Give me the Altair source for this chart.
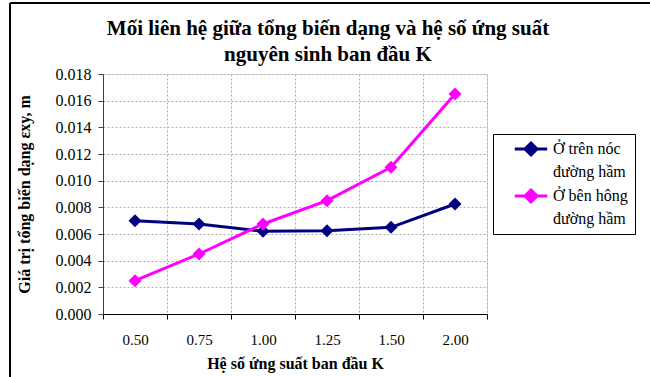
import altair as alt
import pandas as pd

k_labels = ["0.50", "0.75", "1.00", "1.25", "1.50", "2.00"]
series_names = ["Ở trên nóc|đường hầm", "Ở bên hông|đường hầm"]
series_colors = ["#000080", "#FF00FF"]
roof_values = [0.0070, 0.00675, 0.0062, 0.00625, 0.0065, 0.00825]
side_values = [0.0025, 0.0045, 0.00675, 0.0085, 0.0110, 0.0165]
y_ticks = [0.000, 0.002, 0.004, 0.006, 0.008, 0.010, 0.012, 0.014, 0.016, 0.018]

rows = []
for k, v in zip(k_labels, roof_values):
    rows.append({"K": k, "value": v, "series": series_names[0]})
for k, v in zip(k_labels, side_values):
    rows.append({"K": k, "value": v, "series": series_names[1]})
df = pd.DataFrame(rows)

FONT = "Liberation Serif"

x_enc = alt.X(
    "K:O",
    sort=k_labels,
    bandPosition=0.5,
    scale=alt.Scale(type="band", paddingInner=0, paddingOuter=0),
    axis=alt.Axis(
        title="Hệ số ứng suất ban đầu K",
        tickBand="extent",
        labelAngle=0,
        grid=True,
        gridColor="#b0b0b0",
        gridDash=[2, 2],
        gridWidth=1,
        domainColor="#000000",
        tickColor="#000000",
        tickSize=5,
        labelPadding=13,
        labelFont=FONT,
        labelFontSize=15,
        labelColor="#000000",
        titleFont=FONT,
        titleFontSize=16,
        titleFontWeight="bold",
        titleColor="#000000",
        titlePadding=8,
    ),
)
y_enc = alt.Y(
    "value:Q",
    scale=alt.Scale(domain=[0, 0.018], nice=False, zero=True),
    axis=alt.Axis(
        title="Giá trị tổng biến dạng εxy, m",
        values=y_ticks,
        format=".3f",
        grid=True,
        gridColor="#b0b0b0",
        gridDash=[2, 2],
        gridWidth=1,
        domainColor="#404040",
        tickColor="#404040",
        tickSize=5,
        labelPadding=7,
        labelFont=FONT,
        labelFontSize=16,
        labelColor="#000000",
        titleFont=FONT,
        titleFontSize=16,
        titleFontWeight="bold",
        titleColor="#000000",
        titlePadding=23,
    ),
)
color_enc = alt.Color(
    "series:N",
    sort=series_names,
    scale=alt.Scale(domain=series_names, range=series_colors),
    legend=alt.Legend(
        title=None,
        orient="none",
        legendX=390,
        legendY=60,
        direction="vertical",
        strokeColor="#000000",
        fillColor="#ffffff",
        padding=7,
        symbolType="M-2.7,0L2.7,0M0,-1L1,0L0,1L-1,0Z",
        symbolSize=144,
        symbolStrokeWidth=3,
        symbolOffset=23,
        labelOffset=14,
        labelFont=FONT,
        labelFontSize=16,
        labelColor="#000000",
        labelExpr="split(datum.label, '|')",
        labelLimit=0,
        rowPadding=4,
    ),
)

lines = alt.Chart(df).mark_line(strokeWidth=3).encode(x=x_enc, y=y_enc, color=color_enc)
points = alt.Chart(df).mark_point(shape="diamond", filled=True, size=169, opacity=1).encode(
    x=x_enc, y=y_enc, color=color_enc
)

frame_df = pd.DataFrame({"a": [0]})
frame_left = alt.Chart(frame_df).mark_rule(color="#000000", strokeWidth=2).encode(
    x=alt.value(-93), y=alt.value(-71), y2=alt.value(400)
)
frame_top = alt.Chart(frame_df).mark_rule(color="#000000", strokeWidth=2).encode(
    x=alt.value(-93), x2=alt.value(600), y=alt.value(-71)
)

chart = (
    alt.layer(frame_left, frame_top, lines, points)
    .properties(
        width=384,
        height=240,
        autosize=alt.AutoSizeParams(type="none"),
        padding={"left": 103, "top": 74, "right": 163, "bottom": 63},
        title=alt.TitleParams(
            ["Mối liên hệ giữa tổng biến dạng và hệ số ứng suất", "nguyên sinh ban đầu K"],
            font=FONT,
            fontSize=21,
            fontWeight="bold",
            color="#000000",
            anchor="middle",
            dx=33,
            offset=-63,
            lineHeight=26,
        ),
    )
    .configure_view(stroke=None)
    .configure_axis(labelFont=FONT, titleFont=FONT)
    .configure_legend(labelFont=FONT)
    .configure(background="#ffffff", style={"guide-label": {"lineHeight": 23}})
)

chart.save("out.html", embed_options={"renderer": "svg", "actions": False})
